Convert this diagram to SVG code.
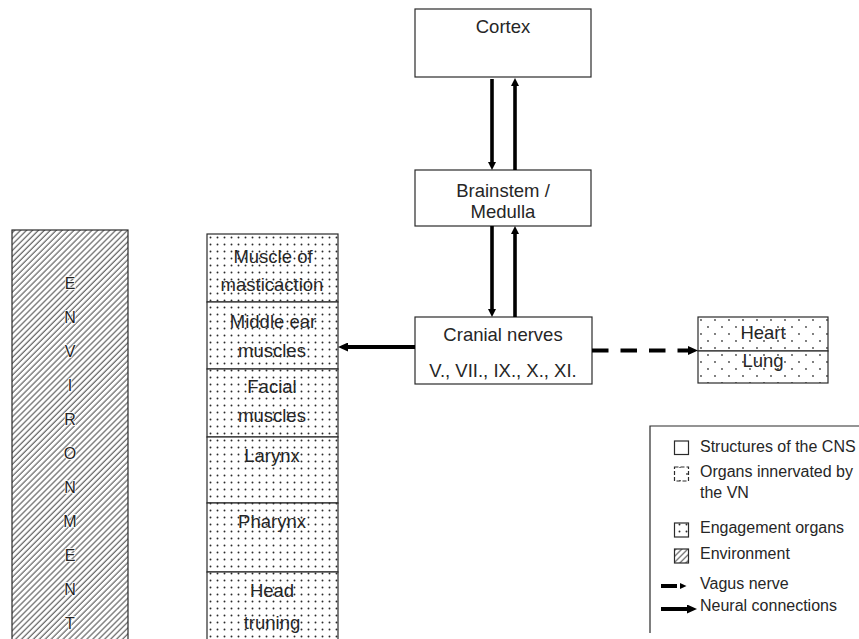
<svg xmlns="http://www.w3.org/2000/svg" width="859" height="639" viewBox="0 0 859 639">
<style>
 text { font-family: "Liberation Sans", Arial, sans-serif; fill: #262626; }
 .n { font-size: 18.5px; text-anchor: middle; }
 .lg { font-size: 16px; }
 .env { font-size: 16px; text-anchor: middle; fill: #222; stroke: #fff; stroke-width: 1.5; paint-order: stroke; }
 .box { fill: #fff; stroke: #2a2a2a; stroke-width: 1.2; }
 .eng { fill: url(#dots); stroke: #2a2a2a; stroke-width: 1.2; }
 .vn { fill: url(#sparse); stroke: #2a2a2a; stroke-width: 1.2; }
 .hatch { fill: url(#hatch); stroke: #2a2a2a; stroke-width: 1.2; }
 .arr { stroke: #000; stroke-width: 3.6; fill: none; }
 .thick { stroke: #000; stroke-width: 4; fill: none; }
</style>
<defs>
 <pattern id="dots" width="7" height="7" patternUnits="userSpaceOnUse" x="207" y="234"><rect width="7" height="7" fill="#fff"/><circle cx="3.5" cy="3.5" r="0.95" fill="#2a2a2a"/></pattern>
 <pattern id="sparse" width="14" height="14" patternUnits="userSpaceOnUse" x="698" y="317"><rect width="14" height="14" fill="#fff"/><circle cx="3" cy="3" r="0.9" fill="#444"/><circle cx="10" cy="10" r="0.9" fill="#444"/></pattern>
 <pattern id="hatch" width="4.2" height="4.2" patternUnits="userSpaceOnUse" patternTransform="rotate(45)"><rect width="4.2" height="4.2" fill="#fff"/><line x1="1" y1="0" x2="1" y2="4.2" stroke="#555" stroke-width="1.1"/></pattern>
 <marker id="ah8" markerWidth="8" markerHeight="8" refX="0" refY="4" orient="auto" markerUnits="userSpaceOnUse"><path d="M0,0 L8,4 L0,8 Z" fill="#000"/></marker>
 <marker id="ah10" markerWidth="10" markerHeight="9" refX="0" refY="4.5" orient="auto" markerUnits="userSpaceOnUse"><path d="M0,0 L10,4.5 L0,9 Z" fill="#000"/></marker>
 <marker id="ah6" markerWidth="7" markerHeight="7" refX="0" refY="3.5" orient="auto" markerUnits="userSpaceOnUse"><path d="M0,0.5 L6.5,3.5 L0,6.5 Z" fill="#000"/></marker>
</defs>
<rect width="859" height="639" fill="#fff"/>

<g id="environment">
 <rect class="hatch" x="12" y="230" width="116" height="420"/>
 <text class="env" x="70" y="289">E</text>
 <text class="env" x="70" y="323">N</text>
 <text class="env" x="70" y="357">V</text>
 <text class="env" x="70" y="391">I</text>
 <text class="env" x="70" y="425">R</text>
 <text class="env" x="70" y="459">O</text>
 <text class="env" x="70" y="493">N</text>
 <text class="env" x="70" y="527">M</text>
 <text class="env" x="70" y="561">E</text>
 <text class="env" x="70" y="595">N</text>
 <text class="env" x="70" y="629">T</text>
</g>

<g id="muscle-mastication">
 <rect class="eng" x="207" y="234" width="131" height="68"/>
 <text class="n" x="273" y="263">Muscle of</text>
 <text class="n" x="272" y="291">masticaction</text>
</g>
<g id="middle-ear">
 <rect class="eng" x="207" y="302" width="131" height="67"/>
 <text class="n" x="273" y="328">Middle ear</text>
 <text class="n" x="272" y="357">muscles</text>
</g>
<g id="facial">
 <rect class="eng" x="207" y="369" width="131" height="68"/>
 <text class="n" x="272" y="393">Facial</text>
 <text class="n" x="272" y="422">muscles</text>
</g>
<g id="larynx">
 <rect class="eng" x="207" y="437" width="131" height="66"/>
 <text class="n" x="272" y="462">Larynx</text>
</g>
<g id="pharynx">
 <rect class="eng" x="207" y="503" width="131" height="69"/>
 <text class="n" x="272" y="528">Pharynx</text>
</g>
<g id="head-turning">
 <rect class="eng" x="207" y="572" width="131" height="80"/>
 <text class="n" x="272" y="597">Head</text>
 <text class="n" x="272" y="629">truning</text>
</g>

<g id="cortex">
 <rect class="box" x="415" y="9" width="176" height="68"/>
 <text class="n" x="503" y="33">Cortex</text>
</g>
<g id="brainstem">
 <rect class="box" x="415" y="170" width="176" height="56"/>
 <text class="n" x="503" y="197">Brainstem /</text>
 <text class="n" x="503" y="218">Medulla</text>
</g>
<g id="cranial">
 <rect class="box" x="415" y="317" width="177" height="67"/>
 <text class="n" x="503" y="341">Cranial nerves</text>
 <text class="n" x="503" y="377">V., VII., IX., X., XI.</text>
</g>

<g id="heart">
 <rect class="vn" x="698" y="317" width="130" height="34"/>
 <text class="n" x="763" y="339">Heart</text>
</g>
<g id="lung">
 <rect class="vn" x="698" y="351" width="130" height="32"/>
 <text class="n" x="763" y="367">Lung</text>
</g>

<g id="connectors">
 <line class="arr" x1="492" y1="79" x2="492" y2="162" marker-end="url(#ah8)"/>
 <line class="arr" x1="515" y1="170" x2="515" y2="86" marker-end="url(#ah8)"/>
 <line class="arr" x1="492" y1="226" x2="492" y2="309" marker-end="url(#ah8)"/>
 <line class="arr" x1="515" y1="317" x2="515" y2="234" marker-end="url(#ah8)"/>
 <line class="thick" x1="415" y1="347" x2="348" y2="347" marker-end="url(#ah10)"/>
 <line class="thick" x1="592" y1="350.5" x2="688" y2="350.5" stroke-width="5" stroke-dasharray="16.5 12" marker-end="url(#ah10)"/>
</g>

<g id="legend">
 <path d="M859,426 H650 V633" fill="none" stroke="#2a2a2a" stroke-width="1.2"/>
 <rect class="box" x="674.5" y="441" width="14" height="13.5"/>
 <text class="lg" x="700" y="452">Structures of the CNS</text>
 <rect class="vn" x="674.5" y="467" width="14" height="14" stroke-dasharray="4 2"/>
 <text class="lg" x="700" y="477">Organs innervated by</text>
 <text class="lg" x="700" y="498">the VN</text>
 <rect class="eng" x="674.5" y="523" width="14" height="14"/>
 <text class="lg" x="700" y="533">Engagement organs</text>
 <rect class="hatch" x="674.5" y="549" width="14" height="14"/>
 <text class="lg" x="700" y="559">Environment</text>
 <line class="thick" x1="661" y1="586" x2="680" y2="586" stroke-dasharray="16 3" marker-end="url(#ah6)"/>
 <text class="lg" x="700" y="589">Vagus nerve</text>
 <line class="thick" x1="661" y1="609" x2="687" y2="609" marker-end="url(#ah10)"/>
 <text class="lg" x="700" y="611">Neural connections</text>
</g>
</svg>
